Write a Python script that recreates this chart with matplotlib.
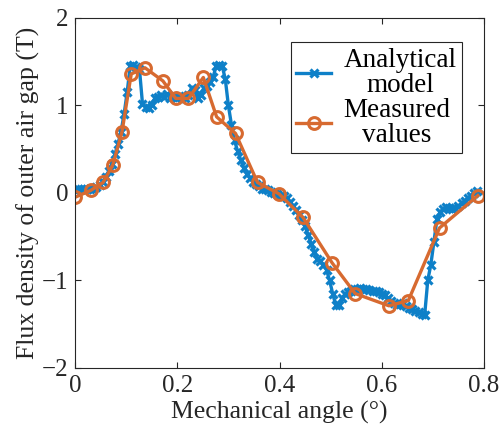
import numpy as np
import matplotlib
matplotlib.use("Agg")
import matplotlib.pyplot as plt

plt.rcParams['font.family'] = ['Liberation Serif', 'DejaVu Serif']
plt.rcParams['mathtext.fontset'] = 'stix'

# Analytical model: flux density sampled every 0.006 deg of mechanical angle
model_step = 0.006
model_flux = [
    0.03, 0.05, 0.04, 0.05, 0.04, 0.05, 0.05, 0.07, 0.09, 0.13,
    0.18, 0.25, 0.33, 0.44, 0.56, 0.70, 0.90, 1.15, 1.45, 1.46,
    1.44, 1.42, 1.02, 0.98, 0.97, 1.01, 1.08, 1.10, 1.12, 1.10,
    1.13, 1.09, 1.10, 1.09, 1.11, 1.10, 1.09, 1.12, 1.20, 1.18,
    1.09, 1.12, 1.20, 1.22, 1.27, 1.32, 1.45, 1.46, 1.45, 1.30,
    1.00, 0.78, 0.60, 0.48, 0.38, 0.29, 0.22, 0.17, 0.13, 0.10,
    0.08, 0.05, 0.04, 0.03, 0.01, 0.00, -0.01, -0.02, -0.04, -0.06,
    -0.10, -0.15, -0.20, -0.25, -0.31, -0.38, -0.48, -0.58, -0.68, -0.75,
    -0.78, -0.82, -0.88, -1.00, -1.15, -1.28, -1.28, -1.20, -1.16, -1.13,
    -1.12, -1.10, -1.10, -1.09, -1.10, -1.10, -1.11, -1.12, -1.12, -1.13,
    -1.15, -1.17, -1.20, -1.23, -1.26, -1.28, -1.27, -1.26, -1.29, -1.31,
    -1.33, -1.35, -1.36, -1.38, -1.39, -1.00, -0.82, -0.56, -0.30, -0.22,
    -0.18, -0.16, -0.17, -0.18, -0.17, -0.15, -0.12, -0.09, -0.06, -0.03,
    0.00, 0.02,
]
model_angle = np.arange(len(model_flux)) * model_step

# Measured values
meas_angle = [0.000, 0.031, 0.055, 0.074, 0.092, 0.110, 0.137, 0.172, 0.197,
              0.222, 0.251, 0.277, 0.314, 0.357, 0.399, 0.446, 0.503, 0.548,
              0.614, 0.652, 0.713, 0.788]
meas_flux = [-0.05, 0.03, 0.12, 0.32, 0.70, 1.36, 1.43, 1.28, 1.08,
             1.08, 1.32, 0.87, 0.68, 0.12, -0.01, -0.28, -0.80, -1.15,
             -1.29, -1.23, -0.40, -0.03]

x_ticks = [0, 0.2, 0.4, 0.6, 0.8]
x_tick_labels = ['0', '0.2', '0.4', '0.6', '0.8']
y_ticks = [-2, -1, 0, 1, 2]
y_tick_labels = ['\u22122', '\u22121', '0', '1', '2']

blue = '#0E80C8'
orange = '#D76A30'
ink = '#262626'
fs = 18

fig = plt.figure(figsize=(5.0, 4.38), dpi=100)
ax = fig.add_axes([0.15, 0.16, 0.818, 0.799])

ax.plot(model_angle, model_flux, '-x', color=blue, lw=2.4, ms=5.5, mew=2.3,
        label='Analytical\nmodel')
ax.plot(meas_angle, meas_flux, '-o', color=orange, lw=2.4, ms=8.5, mew=2.2,
        mfc='none', label='Measured\nvalues')

ax.set_xlim(0, 0.8)
ax.set_ylim(-2, 2)
ax.set_xticks(x_ticks)
ax.set_xticklabels(x_tick_labels)
ax.set_yticks(y_ticks)
ax.set_yticklabels(y_tick_labels)
ax.tick_params(direction='in', length=4, width=0.8, colors=ink,
               labelsize=fs, top=True, right=True, pad=5)
for sp in ax.spines.values():
    sp.set_color(ink)
    sp.set_linewidth(0.8)

ax.set_xlabel('Mechanical angle (\u00b0)', fontsize=18.5, color=ink, labelpad=3)
ax.set_ylabel('Flux density of outer air gap (T)', fontsize=18.5, color=ink,
              labelpad=1)

leg = ax.legend(loc='upper right', bbox_to_anchor=(0.946, 0.93), fontsize=19.5,
                frameon=True, fancybox=False, framealpha=1, edgecolor=ink,
                handlelength=1.3, handletextpad=0.45, borderpad=0.2,
                labelspacing=0.0, borderaxespad=0.0)
leg.get_frame().set_linewidth(0.8)
for t in leg.get_texts():
    t.set_multialignment('center')
    t.set_linespacing(1.0)

fig.savefig('out.png', dpi=100)
